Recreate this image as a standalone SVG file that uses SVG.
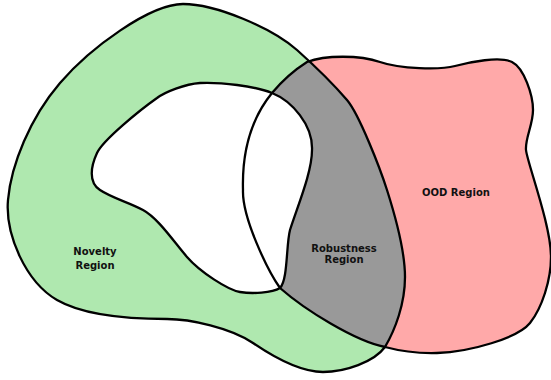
<svg xmlns="http://www.w3.org/2000/svg" width="551" height="380" viewBox="0 0 551 380">
<style>
.outline{fill:none;stroke:#000;stroke-width:2.3;stroke-linejoin:round}
.lbl{font-family:"DejaVu Sans",sans-serif;font-weight:bold;font-size:10px;fill:#111;text-anchor:middle}
</style>
<defs>
<path id="greenPath" d="M8,200 C11,165 30,118 60,83 C90,48 150,4 183,4 C216,4 272,28 297,50 C316,67 335,86 347,100 C359,114 380,168 387,190 C394,212 405,250 405,277 C405,304 395,330 385,347 C374,362 345,372 323,372 C301,372 275,358 253,343 C231,328 190,319 167,319 C144,319 88,318 57,300 C26,282 5,235 8,200 Z"/>
<path id="pinkPath" d="M307,62 C325,55 360,55 380,62 C400,69 440,70 455,66 C470,62 500,56 512,62 C524,68 533,95 533,110 C533,125 525,138 526,150 C527,162 551,225 551,257 C551,280 542,308 530,323 C518,338 470,352 437,353 C420,353.5 400,351 385,347 C355,341 305,310 280,288 C268,271 242,218 243,190 C242,155 250,120 272,93 C282,81 296,69 307,62 Z"/>
<path id="holePath" d="M272,93 C292,101 313,125 312,150 C312,172 298,205 290,230 C286,245 288,280 280,288 C272,293 252,294 240,292 C228,290 200,272 187,257 C174,242 158,218 143,210 C128,202 112,198 100,190 C88,182 91,166 97,153 C103,140 140,110 157,98 C165,92 185,84 200,83 C220,82 255,86 272,93 Z"/>
<clipPath id="pinkClip"><use href="#pinkPath"/></clipPath>
</defs>
<g id="ood-region">
<use href="#pinkPath" fill="#ffa9a9"/>
</g>
<g id="novelty-region">
<use href="#greenPath" fill="#afe8af"/>
</g>
<g id="robustness-region">
<use href="#greenPath" fill="#999999" clip-path="url(#pinkClip)"/>
</g>
<g id="hole">
<use href="#holePath" fill="#ffffff"/>
</g>
<g id="outlines">
<use href="#pinkPath" class="outline"/>
<use href="#greenPath" class="outline"/>
<use href="#holePath" class="outline"/>
</g>
<g id="labels">
<text class="lbl" x="95" y="254.5">Novelty</text>
<text class="lbl" x="95" y="269">Region</text>
<text class="lbl" x="344" y="252">Robustness</text>
<text class="lbl" x="344" y="263">Region</text>
<text class="lbl" x="456" y="196">OOD Region</text>
</g>
</svg>
